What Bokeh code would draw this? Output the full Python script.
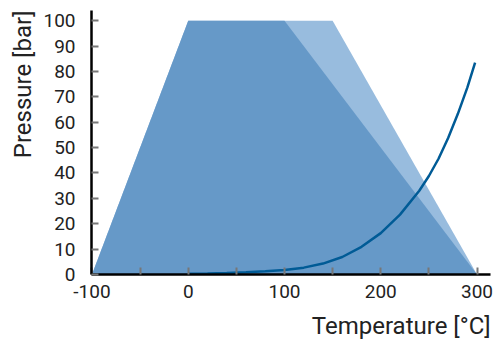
from bokeh.plotting import figure
from bokeh.models import Range1d, FixedTicker, Title
from bokeh.embed import file_html
from bokeh.resources import INLINE

# Operating envelopes (temperature °C, pressure bar)
outer_T = [-100, 0, 150, 300]
outer_P = [0, 100, 100, 0]
inner_T = [-100, 0, 100, 300]
inner_P = [0, 100, 100, 0]

# Vapour-pressure curve
curve_T = [0, 20, 40, 60, 80, 100, 120, 140, 160, 180, 200, 220, 240, 250, 260, 270, 280, 290, 298]
curve_P = [0.3, 0.4, 0.6, 0.9, 1.3, 1.8, 2.7, 4.3, 6.9, 10.9, 16.3, 23.6, 33.0, 38.8, 45.6, 53.8, 63.2, 73.7, 83.5]

x_ticks = [-100, -50, 0, 50, 100, 150, 200, 250, 300]
y_ticks = [0, 10, 20, 30, 40, 50, 60, 70, 80, 90, 100]

FONT = "Roboto"
TXT = "#222222"

p = figure(width=496, height=349, output_backend="svg", toolbar_location=None,
           x_range=Range1d(-100.5, 314.0), y_range=Range1d(0, 104),
           min_border_left=91, min_border_right=6, min_border_top=10, min_border_bottom=75)
p.outline_line_color = None
p.grid.visible = False
p.background_fill_color = "white"

p.patch(outer_T, outer_P, fill_color="#98bcde", line_color=None)
p.patch(inner_T, inner_P, fill_color="#6699c8", line_color=None)
p.line(curve_T, curve_P, line_color="#005b96", line_width=2.5)

for ax in (p.xaxis[0], p.yaxis[0]):
    ax.axis_line_color = "black"
    ax.axis_line_width = 2.5
    ax.major_tick_line_color = "#777777"
    ax.major_tick_line_width = 2
    ax.major_tick_in = 7
    ax.major_tick_out = 0
    ax.minor_tick_line_color = None
    ax.major_label_text_font = FONT
    ax.major_label_text_font_size = "19px"
    ax.major_label_text_color = TXT

p.xaxis.ticker = FixedTicker(ticks=x_ticks)
p.xaxis.major_label_overrides = {t: ("" if t % 100 else str(t)) for t in x_ticks}
p.xaxis.major_label_standoff = 10
p.yaxis.ticker = FixedTicker(ticks=y_ticks)
p.yaxis.major_label_standoff = 16

p.add_layout(Title(text="Temperature [°C]", align="right", text_font=FONT,
                   text_font_size="24px", text_font_style="normal",
                   text_color=TXT, standoff=18), "below")
p.add_layout(Title(text="Pressure [bar]", align="right", text_font=FONT,
                   text_font_size="24px", text_font_style="normal",
                   text_color=TXT, standoff=8), "left")

open("out.html", "w").write(file_html(p, INLINE))
